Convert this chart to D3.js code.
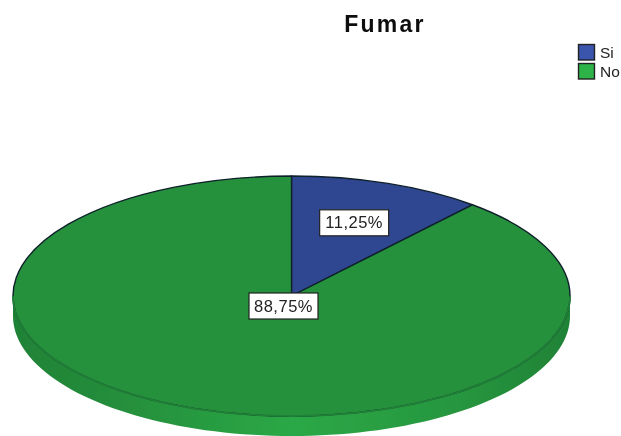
<!DOCTYPE html>
<html>
<head>
<meta charset="utf-8">
<script src="https://cdn.jsdelivr.net/npm/d3@7"></script>
<style>
html,body{margin:0;padding:0;background:#fff}
svg{display:block}
text{font-family:"Liberation Sans",Arial,sans-serif}
</style>
</head>
<body>
<svg id="c" width="621" height="436"></svg>
<script>
const chartTitle = "Fumar";
const categories = ["Si", "No"];
const values = [11.25, 88.75];
const labels = ["11,25%", "88,75%"];

const topColors = ["#2f4690", "#26913c"];
const legendColors = ["#3a55ad", "#2db34a"];

const W = 621, H = 436, cx = 291.5, cy = 296, rx = 278.5, ry = 120, depth = 20;
const svg = d3.select("#c");
const defs = svg.append("defs");
const blur = defs.append("filter").attr("id","soft").attr("x","-5%").attr("y","-5%").attr("width","110%").attr("height","110%");
blur.append("feGaussianBlur").attr("stdDeviation",0.5);
const grad = defs.append("linearGradient").attr("id","side");
[[0,"#1f8236"],[0.2,"#258f3c"],[0.5,"#2ba846"],[0.8,"#27963f"],[1,"#1f8236"]]
  .forEach(([o,c])=>grad.append("stop").attr("offset",o).attr("stop-color",c));

const root = svg.append("g").attr("filter","url(#soft)");

const pie = d3.pie().sort(null).value(d=>d);
const arcs = pie(values);
const arc = d3.arc().innerRadius(0).outerRadius(rx);
const sy = ry/rx;

// extruded rim: the lower half of the ellipse swept down by the depth
const rimX = d3.scaleLinear().domain([-1,1]).range([cx-rx,cx+rx]);
const half = d3.range(0,181,2).map(a=>a*Math.PI/180);
const rimLine = d3.line().x(d=>d[0]).y(d=>d[1]);
const lower = half.map(a=>[rimX(Math.cos(a)), cy+depth+ry*Math.sin(a)]);
const upper = half.slice().reverse().map(a=>[rimX(Math.cos(a)), cy+ry*Math.sin(a)]);
root.append("path").attr("d",rimLine(lower.concat(upper))+"Z").attr("fill","url(#side)");

// top face
const face = root.append("g").attr("transform",`translate(${cx},${cy}) scale(1,${sy})`);
face.selectAll("path").data(arcs).join("path")
  .attr("d",arc)
  .attr("fill",(d,i)=>topColors[i])
  .attr("stroke","#10202a")
  .attr("stroke-width",1.4)
  .attr("stroke-linejoin","round")
  .attr("vector-effect","non-scaling-stroke");

// the front edge of the top face is a soft dark green, not black
root.append("path")
  .attr("d",rimLine(upper))
  .attr("fill","none")
  .attr("stroke","#217f38")
  .attr("stroke-width",1.8);

// slice labels
const labelAnchor = [
  {f:0.65,dx:0,dy:0},
  {f:0,dx:-8,dy:10}
];
const boxW = 69, boxH = 26;
arcs.forEach((d,i)=>{
  const mid = (d.startAngle+d.endAngle)/2;
  const a = labelAnchor[i];
  const x = cx + Math.sin(mid)*rx*a.f + a.dx;
  const y = cy - Math.cos(mid)*ry*a.f + a.dy;
  root.append("rect").attr("x",x-boxW/2).attr("y",y-boxH/2).attr("width",boxW).attr("height",boxH)
    .attr("fill","#fff").attr("stroke","#222").attr("stroke-width",1.2);
  root.append("text").attr("x",x).attr("y",y+5.5).attr("text-anchor","middle")
    .attr("font-size",16.5).attr("letter-spacing",0.5).attr("fill","#222").text(labels[i]);
});

// title
root.append("text").attr("x",385).attr("y",32).attr("text-anchor","middle")
  .attr("font-size",23).attr("letter-spacing",2.2).attr("font-weight","bold").attr("fill","#111").text(chartTitle);

// legend
const legendY = d3.scalePoint().domain(categories).range([44.5,63.5]);
categories.forEach((c,i)=>{
  root.append("rect").attr("x",578.5).attr("y",legendY(c)).attr("width",16).attr("height",15.5)
    .attr("fill",legendColors[i]).attr("stroke","#222").attr("stroke-width",1.4);
  root.append("text").attr("x",600).attr("y",legendY(c)+13.5)
    .attr("font-size",15.5).attr("fill","#222").text(c);
});
</script>
</body>
</html>
